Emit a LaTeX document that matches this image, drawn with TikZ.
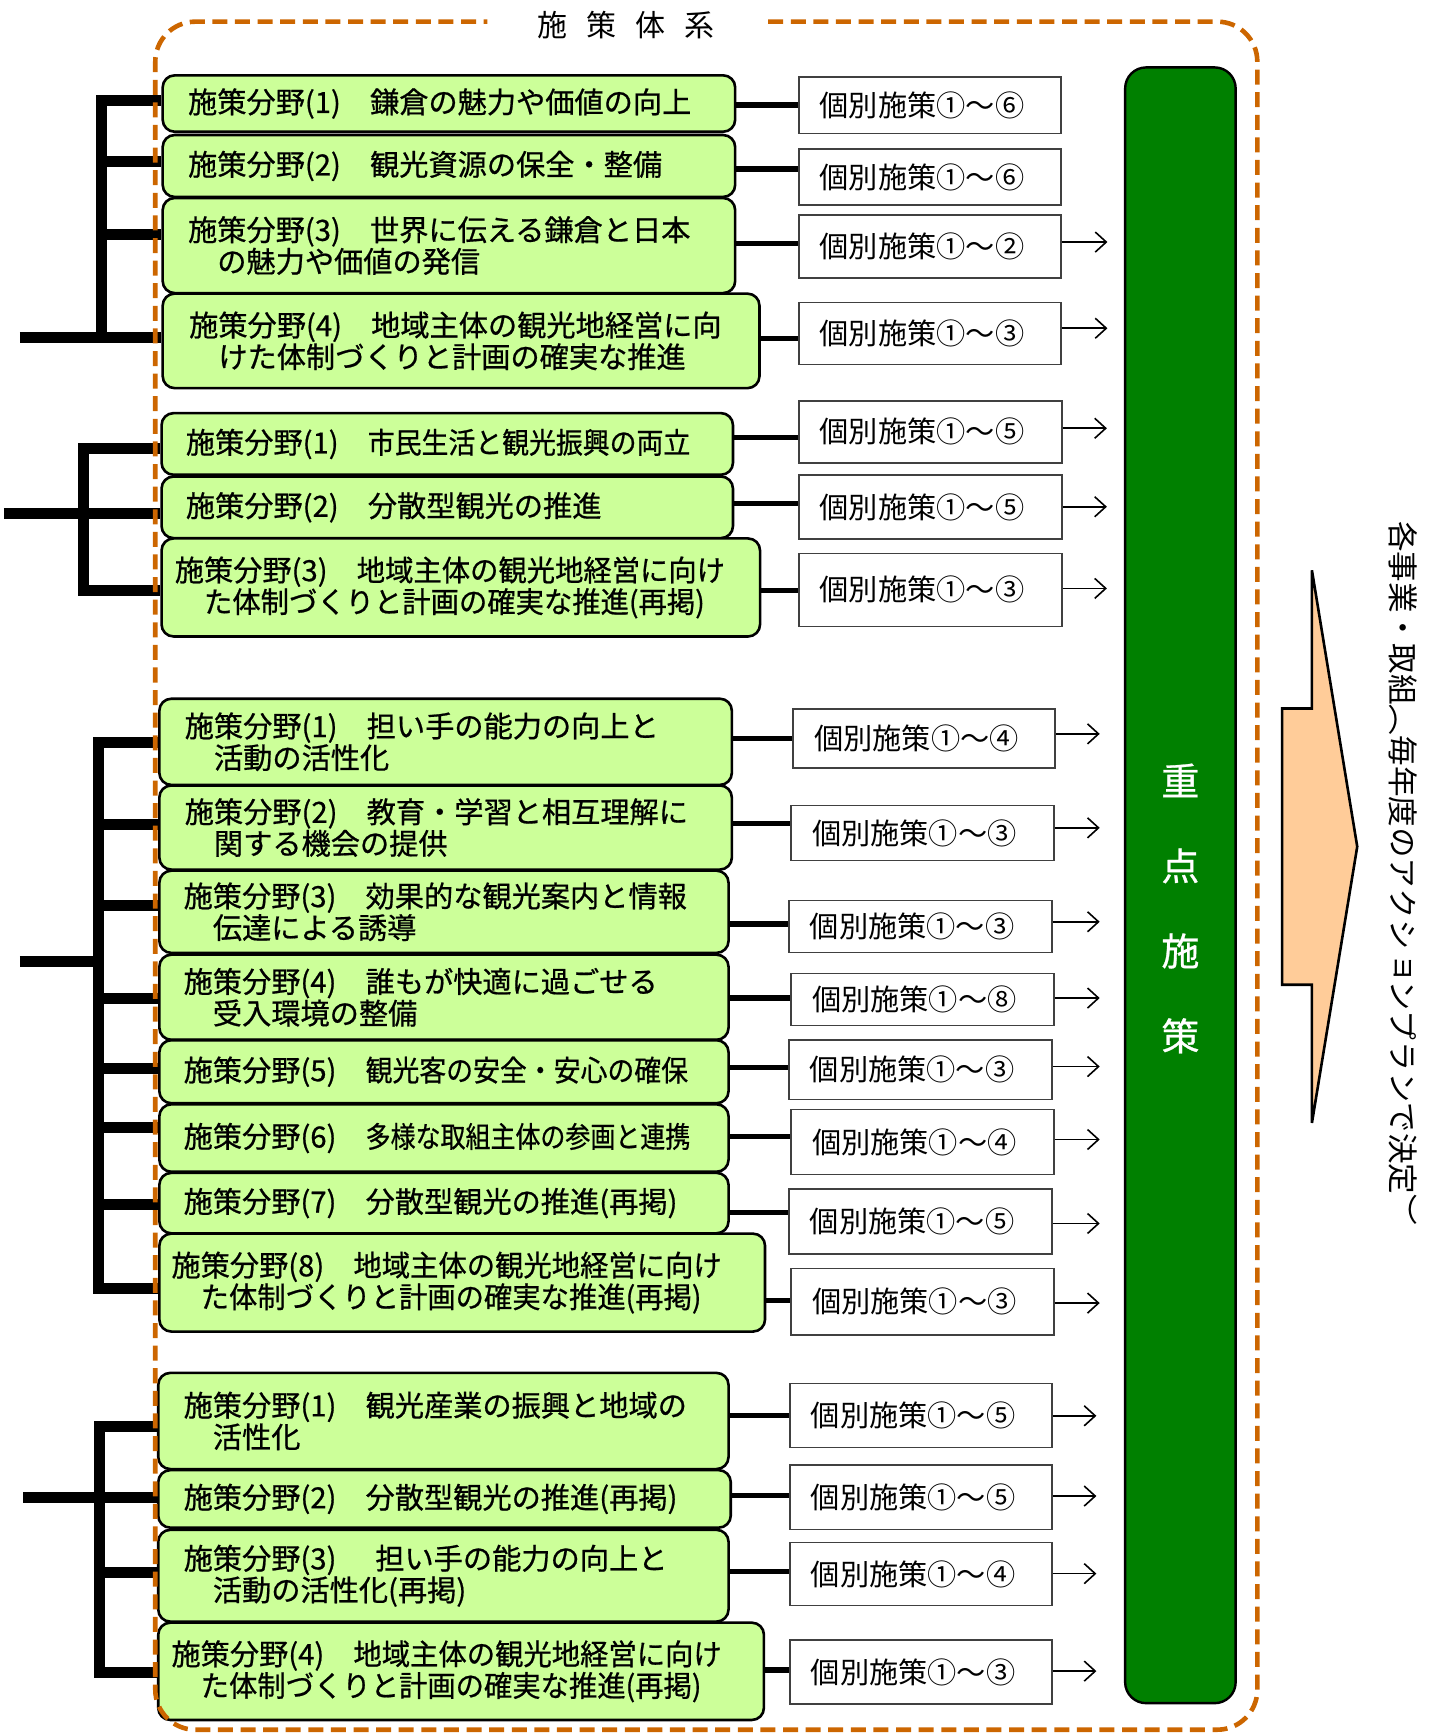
\documentclass[tikz,border=0pt]{standalone}
\usepackage{fontspec}
\setmainfont{Noto Sans CJK JP}
\newfontfamily\gjp[FakeBold=0.7]{Noto Sans CJK JP}
\newfontfamily\vjp[Vertical=RotatedGlyphs]{Noto Sans CJK JP}
\usetikzlibrary{arrows.meta}
\definecolor{lgreen}{RGB}{204,255,153}
\definecolor{dgreen}{RGB}{0,128,0}
\definecolor{peach}{RGB}{255,204,153}
\definecolor{orng}{RGB}{204,102,0}
\newcommand\gfont{\gjp\fontsize{14.6}{15.8}\selectfont}
\newcommand\wfont{\fontsize{14.6}{16}\selectfont}
\newcommand\sq[2]{\scalebox{#1}[1]{#2}}
\tikzset{
  gb/.style={draw=black, line width=1.3pt, fill=lgreen, rounded corners=6pt, align=left, font=\gfont, inner ysep=0pt},
  wb/.style={draw=black!75, line width=0.8pt, fill=white, align=left, font=\wfont, inner ysep=0pt},
  tree/.style={line width=5.5pt},
  conn/.style={line width=2.6pt},
  arr/.style={line width=0.8pt, -{Straight Barb[length=5.5pt,width=10pt]}},
  frame/.style={draw=orng, line width=2.3pt, dash pattern=on 7.5pt off 3.8pt, rounded corners=20pt},
}
\newcommand\gbox[7]{%
  \pgfmathsetlengthmacro\myBW{(#4-#2)*0.5525pt}%
  \pgfmathsetlengthmacro\myBH{(#5-#3)*0.5525pt}%
  \pgfmathsetlengthmacro\myBX{#6*0.5525pt}%
  \pgfmathsetlengthmacro\myTW{(#4-#2-2*#6)*0.5525pt}%
  \node[gb, anchor=north west, inner xsep=\myBX, minimum width=\myBW, minimum height=\myBH, text width=\myTW] (#1) at (#2,#3) {#7};}
\newcommand\wbox[6]{%
  \pgfmathsetlengthmacro\myBW{(#4-#2)*0.5525pt}%
  \pgfmathsetlengthmacro\myBH{(#5-#3)*0.5525pt}%
  \pgfmathsetlengthmacro\myBX{19*0.5525pt}%
  \pgfmathsetlengthmacro\myTW{(#4-#2-38)*0.5525pt}%
  \node[wb, anchor=north west, inner xsep=\myBX, minimum width=\myBW, minimum height=\myBH, text width=\myTW] (#1) at (#2,#3) {個別施策①～#6};}
\begin{document}
\begin{tikzpicture}[x=0.5525pt, y=-0.5525pt]
\useasboundingbox (0,0) rectangle (1295,1568);

% ---- green boxes
\gbox{g11}{146}{67}{664}{118}{23}{施策分野(1)　鎌倉の魅力や価値の向上}
\gbox{g12}{146}{121}{664}{177}{23}{施策分野(2)　観光資源の保全・整備}
\gbox{g13}{146}{178}{664}{264}{23}{施策分野(3)　世界に伝える鎌倉と日本\\　の魅力や価値の発信}
\gbox{g14}{146}{264.5}{686}{350}{24}{施策分野(4)　地域主体の観光地経営に向\\　けた体制づくりと計画の確実な推進}

\gbox{g21}{145}{372.6}{662}{428.4}{22}{施策分野(1)　\sq{0.92}{市民生活と観光振興の両立}}
\gbox{g22}{145}{430}{662}{485.7}{22}{施策分野(2)　分散型観光の推進}
\gbox{g23}{145}{486}{686.5}{574.7}{12}{施策分野(3)　\sq{0.97}{地域主体の観光地経営に向け}\\　\sq{0.97}{た体制づくりと計画の確実な推進(再掲)}}

\gbox{g31}{143}{631}{661}{709}{23}{施策分野(1)　担い手の能力の向上と\\　活動の活性化}
\gbox{g32}{143}{709.5}{661}{785.6}{23}{施策分野(2)　教育・学習と相互理解に\\　関する機会の提供}
\gbox{g33}{143}{786.6}{658}{861}{22}{施策分野(3)　効果的な観光案内と情報\\　伝達による誘導}
\gbox{g34}{143}{862.6}{658}{939.6}{22}{施策分野(4)　誰もが快適に過ごせる\\　受入環境の整備}
\gbox{g35}{143}{940}{658}{997}{22}{施策分野(5)　\sq{0.92}{観光客の安全・安心の確保}}
\gbox{g36}{143}{998}{658}{1059}{22}{施策分野(6)　\sq{0.855}{多様な取組主体の参画と連携}}
\gbox{g37}{143}{1060}{658}{1114.7}{22}{施策分野(7)　分散型観光の推進(再掲)}
\gbox{g38}{143}{1115}{691}{1203.6}{11}{施策分野(8)　\sq{0.97}{地域主体の観光地経営に向け}\\　\sq{0.97}{た体制づくりと計画の確実な推進(再掲)}}

\gbox{g41}{142}{1241}{658}{1328}{23}{施策分野(1)　観光産業の振興と地域の\\　活性化}
\gbox{g42}{142}{1329}{660}{1381}{23}{施策分野(2)　分散型観光の推進(再掲)}
\gbox{g43}{142}{1383}{658}{1466}{23}{施策分野(3)　 担い手の能力の向上と\\　活動の活性化(再掲)}
\gbox{g44}{142}{1467}{690}{1555}{12}{施策分野(4)　\sq{0.97}{地域主体の観光地経営に向け}\\　\sq{0.97}{た体制づくりと計画の確実な推進(再掲)}}

% ---- white boxes
\wbox{w11}{722}{69}{959}{120}{⑥}
\wbox{w12}{722}{134}{959}{185}{⑥}
\wbox{w13}{722}{194}{959}{251}{②}
\wbox{w14}{722}{273}{959}{329}{③}
\wbox{w21}{722}{362}{960}{418}{⑤}
\wbox{w22}{722}{429}{960}{487}{⑤}
\wbox{w23}{722}{500}{960}{566}{③}
\wbox{w31}{717}{641}{954}{694}{④}
\wbox{w32}{715}{728}{953}{778}{③}
\wbox{w33}{713}{814}{951}{861}{③}
\wbox{w34}{715}{880}{953}{927}{⑧}
\wbox{w35}{713}{940}{951}{994}{③}
\wbox{w36}{715}{1003}{953}{1062}{④}
\wbox{w37}{713}{1075}{951}{1134}{⑤}
\wbox{w38}{715}{1147}{953}{1207}{③}
\wbox{w41}{714}{1251}{951}{1309}{⑤}
\wbox{w42}{714}{1325}{951}{1383}{⑤}
\wbox{w43}{714}{1395}{951}{1452}{④}
\wbox{w44}{714}{1483}{951}{1541}{③}

% ---- tree lines (left)
\draw[tree] (g11.west |- 0,90.5) -| (92,305);
\draw[tree] (92,146) -- (g12.west |- 0,146);
\draw[tree] (92,212) -- (g13.west |- 0,212);
\draw[tree] (18,305) -- (g14.west |- 0,305);

\draw[tree] (g21.west |- 0,405.7) -| (76,534) -- (g23.west |- 0,534);
\draw[tree] (3.5,464.5) -- (g22.west |- 0,464.5);

\draw[tree] (g31.west |- 0,672) -| (89,1166) -- (g38.west |- 0,1166);
\draw[tree] (89,746) -- (g32.west |- 0,746);
\draw[tree] (89,819) -- (g33.west |- 0,819);
\draw[tree] (89,903) -- (g34.west |- 0,903);
\draw[tree] (89,967) -- (g35.west |- 0,967);
\draw[tree] (89,1020) -- (g36.west |- 0,1020);
\draw[tree] (89,1090) -- (g37.west |- 0,1090);
\draw[tree] (18,870) -- (89,870);

\draw[tree] (g41.west |- 0,1291) -| (90,1513) -- (g44.west |- 0,1513);
\draw[tree] (21,1355) -- (g42.west |- 0,1355);
\draw[tree] (90,1423) -- (g43.west |- 0,1423);

% ---- connectors green -> white
\draw[conn] (g11.east |- 0,95) -- (w11.west |- 0,95);
\draw[conn] (g12.east |- 0,153) -- (w12.west |- 0,153);
\draw[conn] (g13.east |- 0,220) -- (w13.west |- 0,220);
\draw[conn] (g14.east |- 0,306) -- (w14.west |- 0,306);
\draw[conn] (g21.east |- 0,396) -- (w21.west |- 0,396);
\draw[conn] (g22.east |- 0,455.5) -- (w22.west |- 0,455.5);
\draw[conn] (g23.east |- 0,534.6) -- (w23.west |- 0,534.6);
\draw[conn] (g31.east |- 0,668) -- (w31.west |- 0,668);
\draw[conn] (g32.east |- 0,745) -- (w32.west |- 0,745);
\draw[conn] (g33.east |- 0,836) -- (w33.west |- 0,836);
\draw[conn] (g34.east |- 0,903) -- (w34.west |- 0,903);
\draw[conn] (g35.east |- 0,966) -- (w35.west |- 0,966);
\draw[conn] (g36.east |- 0,1028) -- (w36.west |- 0,1028);
\draw[conn] (g37.east |- 0,1097) -- (w37.west |- 0,1097);
\draw[conn] (g38.east |- 0,1177) -- (w38.west |- 0,1177);
\draw[conn] (g41.east |- 0,1281) -- (w41.west |- 0,1281);
\draw[conn] (g42.east |- 0,1353) -- (w42.west |- 0,1353);
\draw[conn] (g43.east |- 0,1422) -- (w43.west |- 0,1422);
\draw[conn] (g44.east |- 0,1511) -- (w44.west |- 0,1511);

% ---- arrows white -> bar
\draw[arr] (w13.east |- 0,219) -- (1002,219);
\draw[arr] (w14.east |- 0,297) -- (1002,297);
\draw[arr] (w21.east |- 0,387.5) -- (1001.5,387.5);
\draw[arr] (w22.east |- 0,458.5) -- (1001.5,458.5);
\draw[arr] (w23.east |- 0,532.4) -- (1001.5,532.4);
\draw[arr] (w31.east |- 0,664) -- (995,664);
\draw[arr] (w32.east |- 0,749) -- (995,749);
\draw[arr] (w33.east |- 0,834) -- (995,834);
\draw[arr] (w34.east |- 0,903) -- (995,903);
\draw[arr] (w35.east |- 0,965) -- (995,965);
\draw[arr] (w36.east |- 0,1031) -- (995,1031);
\draw[arr] (w37.east |- 0,1107) -- (995,1107);
\draw[arr] (w38.east |- 0,1179) -- (995,1179);
\draw[arr] (w41.east |- 0,1281) -- (992,1281);
\draw[arr] (w42.east |- 0,1353.6) -- (992,1353.6);
\draw[arr] (w43.east |- 0,1423.8) -- (992,1423.8);
\draw[arr] (w44.east |- 0,1512) -- (992,1512);

% ---- big green bar
\draw[draw=black, line width=1.2pt, fill=dgreen, rounded corners=10.5pt] (1018,61) rectangle (1118,1541);
\node[text=white, align=center, font=\gjp\fontsize{19}{42.5}\selectfont] (bartext) at (1068,822) {重\\点\\施\\策};

% ---- big orange arrow
\draw[line width=1.3pt, fill=peach, line join=miter] (1187,516) -- (1228,766) -- (1187,1016) -- (1187,891) -- (1160,891) -- (1160,641) -- (1187,641) -- cycle;

% ---- vertical text
\node[rotate=-90, font=\vjp\fontsize{15.3}{18}\selectfont, inner sep=0pt] (vtext) at (1270,790) {各事業・取組（毎年度のアクションプランで決定）};

% ---- dashed frame and title
\draw[frame] (695,19.6) -- (1137.6,19.6) -- (1137.6,1565) -- (140.5,1565) -- (140.5,19.6) -- (441,19.6);
\node[font=\fontsize{15}{18}\selectfont] (title) at (566.5,22.6) {施\hspace{9.4pt}策\hspace{9.4pt}体\hspace{9.4pt}系};
\end{tikzpicture}
\end{document}
